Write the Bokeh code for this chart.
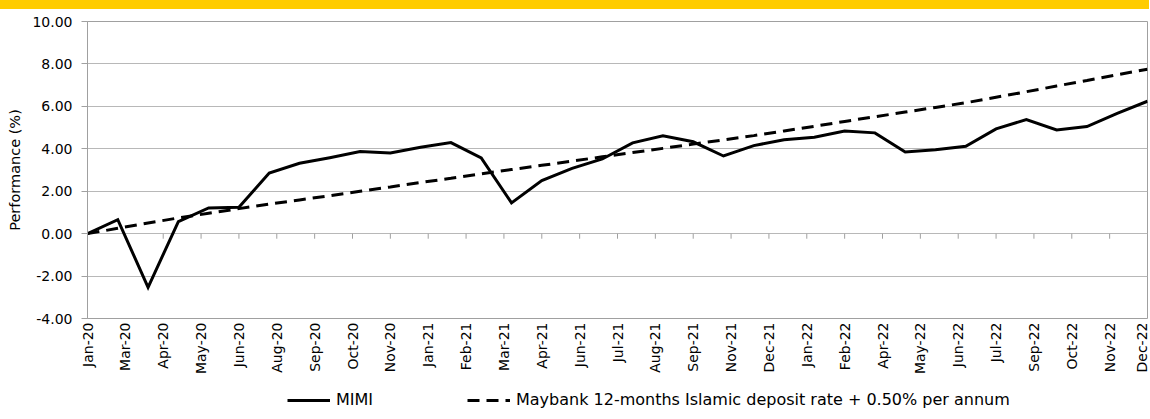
import math
from bokeh.plotting import figure
from bokeh.models import (FixedTicker, PrintfTickFormatter, Legend, LegendItem,
                          ColumnDataSource, Range1d, Div)
from bokeh.layouts import column
from bokeh.embed import file_html
from bokeh.resources import INLINE

# ---------------- data ----------------
months = ["Jan-20", "Feb-20", "Mar-20", "Apr-20", "May-20", "Jun-20",
          "Jul-20", "Aug-20", "Sep-20", "Oct-20", "Nov-20", "Dec-20",
          "Jan-21", "Feb-21", "Mar-21", "Apr-21", "May-21", "Jun-21",
          "Jul-21", "Aug-21", "Sep-21", "Oct-21", "Nov-21", "Dec-21",
          "Jan-22", "Feb-22", "Mar-22", "Apr-22", "May-22", "Jun-22",
          "Jul-22", "Aug-22", "Sep-22", "Oct-22", "Nov-22", "Dec-22"]

mimi = [0.00, 0.66, -2.53, 0.57, 1.21, 1.24, 2.86, 3.32, 3.58, 3.87,
        3.80, 4.07, 4.29, 3.57, 1.45, 2.50, 3.08, 3.52, 4.28, 4.61,
        4.33, 3.66, 4.15, 4.43, 4.54, 4.84, 4.75, 3.85, 3.96, 4.12,
        4.94, 5.38, 4.89, 5.05, 5.67, 6.24]

benchmark = [0.00, 0.25, 0.50, 0.74, 0.96, 1.18, 1.39, 1.59, 1.79, 2.00,
             2.20, 2.41, 2.61, 2.82, 3.02, 3.22, 3.42, 3.62, 3.82, 4.02,
             4.22, 4.42, 4.62, 4.84, 5.06, 5.29, 5.51, 5.73, 5.95, 6.17,
             6.43, 6.69, 6.96, 7.22, 7.49, 7.75]

tick_labels = ["Jan-20", "Mar-20", "Apr-20", "May-20", "Jun-20", "Aug-20",
               "Sep-20", "Oct-20", "Nov-20", "Jan-21", "Feb-21", "Mar-21",
               "Apr-21", "Jun-21", "Jul-21", "Aug-21", "Sep-21", "Nov-21",
               "Dec-21", "Jan-22", "Feb-22", "Apr-22", "May-22", "Jun-22",
               "Jul-22", "Sep-22", "Oct-22", "Nov-22", "Dec-22"]

y_ticks = [-4, -2, 0, 2, 4, 6, 8, 10]

series_names = ["MIMI",
                "Maybank 12-months Islamic deposit rate + 0.50% per annum"]

# ---------------- styling ----------------
FONT = "DejaVu Sans"
W = 1149
GRID = "#B8B8B8"
AXIS = "#A0A0A0"
LINE_W = 3
DASH = "12 7"

bar = Div(text="", width=W, height=9, margin=0,
          styles={"background-color": "#FFCC00"})

x = list(range(len(months)))
src = ColumnDataSource(dict(x=x, month=months, mimi=mimi, bench=benchmark))

n_int = len(tick_labels) - 1
tick_pos = [i * (len(months) - 1) / n_int for i in range(len(tick_labels))]

p = figure(width=W, height=369,
           x_range=Range1d(0, len(months) - 1), y_range=Range1d(-4, 10),
           output_backend="svg", toolbar_location=None,
           min_border_left=87, min_border_right=2,
           min_border_top=12, min_border_bottom=60)

p.background_fill_color = "white"
p.border_fill_color = "white"
p.outline_line_color = AXIS
p.outline_line_width = 1

p.xgrid.visible = False
p.ygrid.ticker = FixedTicker(ticks=y_ticks)
p.ygrid.grid_line_color = GRID
p.ygrid.grid_line_width = 1

# y axis
ya = p.yaxis[0]
ya.ticker = FixedTicker(ticks=y_ticks)
ya.formatter = PrintfTickFormatter(format="%.2f")
ya.axis_line_color = AXIS
ya.major_tick_line_color = AXIS
ya.major_tick_out = 6
ya.major_tick_in = 0
ya.minor_tick_line_color = None
ya.major_label_text_font = FONT
ya.major_label_text_font_size = "14px"
ya.major_label_text_color = "#000000"
ya.major_label_standoff = 9
ya.axis_label = "Performance (%)"
ya.axis_label_text_font = FONT
ya.axis_label_text_font_size = "14.5px"
ya.axis_label_text_font_style = "normal"
ya.axis_label_text_color = "#000000"
ya.axis_label_standoff = 6

# x axis
xa = p.xaxis[0]
xa.ticker = FixedTicker(ticks=tick_pos)
xa.major_label_overrides = {pos: lab for pos, lab in zip(tick_pos, tick_labels)}
xa.major_label_orientation = math.pi / 2
xa.axis_line_color = None
xa.major_tick_line_color = None
xa.major_tick_out = 0
xa.major_tick_in = 0
xa.minor_tick_line_color = None
xa.major_label_text_font = FONT
xa.major_label_text_font_size = "14px"
xa.major_label_text_color = "#000000"
xa.major_label_standoff = 4

# tick marks on the zero line
p.segment(x0=tick_pos, y0=[0] * len(tick_pos), x1=tick_pos,
          y1=[-0.24] * len(tick_pos), line_color=AXIS, line_width=1)

p.line("x", "mimi", source=src, line_color="black", line_width=LINE_W,
       line_join="miter")
p.line("x", "bench", source=src, line_color="black", line_width=LINE_W,
       line_dash=DASH)

# ---------------- legend strip ----------------
# proxy renderers: same series, drawn outside this strip's visible range
leg = figure(width=W, height=32,
             x_range=Range1d(0, len(months) - 1), y_range=Range1d(100, 101),
             output_backend="svg", toolbar_location=None, title=None,
             x_axis_location=None, y_axis_location=None, min_border=0)
leg.grid.visible = False
leg.outline_line_color = None
leg.background_fill_color = "white"
leg.border_fill_color = "white"
k1 = leg.line("x", "mimi", source=src, line_color="black", line_width=LINE_W)
k2 = leg.line("x", "bench", source=src, line_color="black", line_width=LINE_W,
              line_dash=DASH)

legend = Legend(items=[LegendItem(label=series_names[0], renderers=[k1]),
                       LegendItem(label=series_names[1], renderers=[k2])],
                orientation="horizontal", location=(200, 1),
                border_line_color=None, background_fill_alpha=0,
                glyph_width=43, glyph_height=16, label_standoff=6,
                label_width=131, spacing=0, padding=0, margin=0,
                label_text_font=FONT, label_text_font_size="16px",
                label_text_color="#000000")
leg.add_layout(legend, "center")

layout = column(bar, p, leg, spacing=0)

open("out.html", "w").write(file_html(layout, INLINE))
